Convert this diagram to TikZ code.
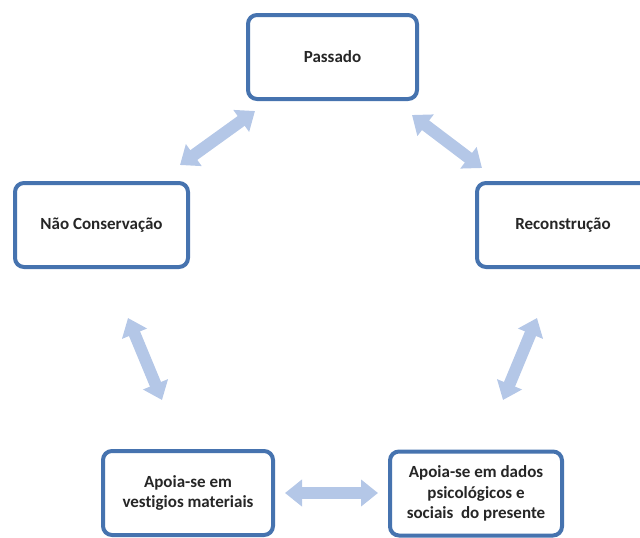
\documentclass[tikz,border=0pt]{standalone}
\usepackage{fontspec}
\setmainfont[Ligatures=NoCommon]{Carlito}
\usetikzlibrary{arrows.meta}
\definecolor{boxblue}{RGB}{70,115,175}
\definecolor{arrowblue}{RGB}{180,199,231}
\begin{document}
\begin{tikzpicture}[x=1pt,y=-1pt,
  box/.style={draw=boxblue, line width=4pt, rounded corners=9pt, fill=white,
    minimum width=172pt, minimum height=84pt, inner sep=0pt, align=center,
    text=black!85, font=\bfseries\fontsize{17}{20.5}\selectfont},
  dbl/.style={draw=arrowblue, line width=12pt,
    {Triangle[width=26pt,length=17pt]}-{Triangle[width=26pt,length=17pt]}}]
\useasboundingbox (0,0) rectangle (640,538);
\node[box, minimum width=169pt] (passado) at (332.5,57) {Passado};
\node[box, minimum width=173pt] (nao) at (101.5,225) {Não Conservação};
\node[box] (recon) at (563,225) {Reconstrução};
\node[box, minimum width=170pt] (vest) at (188,493) {Apoia-se em\\vestigios materiais};
\node[box] (dados) at (476,493.5) {Apoia-se em dados\\psicológicos e\\sociais\ \ do presente};
\coordinate (a1s) at (180,165); \coordinate (a1e) at (255,111);
\coordinate (a2s) at (412,115); \coordinate (a2e) at (482,168);
\coordinate (a3s) at (537,318); \coordinate (a3e) at (503,400);
\coordinate (a4s) at (128,318); \coordinate (a4e) at (162,400);
\coordinate (a5s) at (285,493); \coordinate (a5e) at (378,493);
\draw[dbl] (a1s) -- (a1e);
\draw[dbl] (a2s) -- (a2e);
\draw[dbl] (a3s) -- (a3e);
\draw[dbl] (a4s) -- (a4e);
\draw[dbl] (a5s) -- (a5e);
\end{tikzpicture}
\end{document}
